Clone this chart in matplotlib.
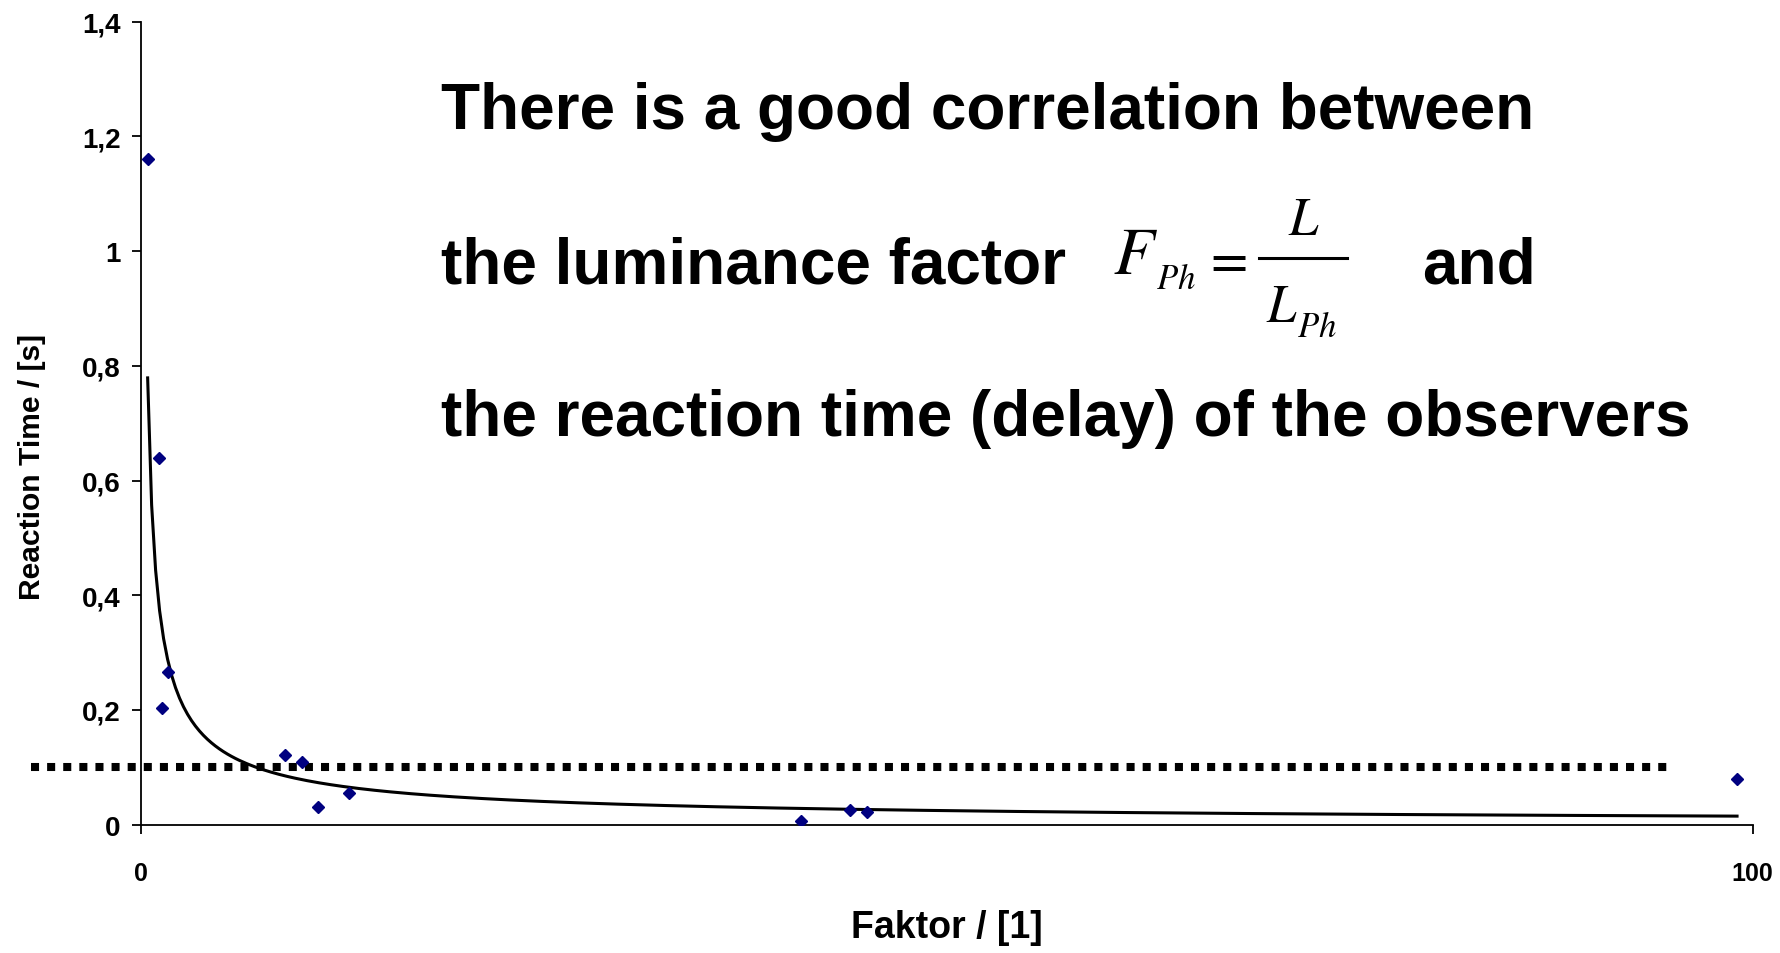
import numpy as np
import matplotlib
matplotlib.use('Agg')
import matplotlib.pyplot as plt
from matplotlib.lines import Line2D
from matplotlib.ticker import FuncFormatter

faktor = [0.42, 1.13, 1.67, 1.34, 8.97, 10.0, 11.01, 12.94, 40.94, 44.02, 45.04, 99.03]
reaktionszeit = [1.16, 0.64, 0.267, 0.204, 0.1215, 0.1088, 0.0314, 0.0553, 0.0064, 0.0256, 0.0227, 0.079]
schwelle = 0.1

x_ticks = [0, 100]
y_ticks = [0, 0.2, 0.4, 0.6, 0.8, 1.0, 1.2, 1.4]

plt.rcParams['font.family'] = ['Liberation Sans', 'DejaVu Sans']
plt.rcParams['mathtext.fontset'] = 'stix'

W, H = 1781, 954


def px(x, y):
    # Pixel (von oben links) -> Figure-Koordinaten
    return x / W, 1 - y / H


# Potenz-Trendlinie wie in Excel: ln(y) = ln(a) + b*ln(x)
b, ln_a = np.polyfit(np.log(faktor), np.log(reaktionszeit), 1)
x_fit = np.linspace(min(faktor), max(faktor), 400)
y_fit = np.exp(ln_a) * x_fit ** b

fig = plt.figure(figsize=(W / 100, H / 100), dpi=100)
ax = fig.add_axes([0.0791, 0.1345, 0.905, 0.8417])

ax.plot(x_fit, y_fit, color='black', linewidth=2.2, zorder=2)
ax.plot(faktor, reaktionszeit, linestyle='none', marker='D', markersize=6,
        color='#000080', zorder=3)
ax.axhline(schwelle, xmin=-0.068, xmax=0.949, color='black', linewidth=5.8,
           linestyle=(0, (1, 1)), dash_capstyle='butt', clip_on=False, zorder=1)

ax.set_xlim(0, 100)
ax.set_ylim(0, 1.4)
ax.set_xticks(x_ticks)
ax.set_yticks(y_ticks)
ax.yaxis.set_major_formatter(FuncFormatter(lambda v, p: f'{v:g}'.replace('.', ',')))

for s in ['top', 'right']:
    ax.spines[s].set_visible(False)
for s in ['left', 'bottom']:
    ax.spines[s].set_linewidth(1.3)
ax.tick_params(axis='both', direction='out', length=6.5, width=1.3)
ax.tick_params(axis='y', pad=8, labelsize=20)
ax.tick_params(axis='x', pad=20, labelsize=18)
for lab in ax.get_xticklabels() + ax.get_yticklabels():
    lab.set_fontweight('bold')

ax.set_xlabel('Faktor / [1]', fontsize=27, fontweight='bold')
ax.xaxis.set_label_coords(0.5, -0.105)

ax.set_ylabel('Reaction Time / [s]', fontsize=21.6, fontweight='bold')
ax.yaxis.label.set_va('center')
ax.yaxis.set_label_coords(-0.0675, 0.447)

# Textblock
fs = 46
fig.text(*px(441, 129), 'There is a good correlation between',
         fontsize=fs, fontweight='bold', va='baseline')
fig.text(*px(441, 283), 'the luminance factor',
         fontsize=fs, fontweight='bold', va='baseline')
fig.text(*px(1422, 283), 'and',
         fontsize=fs, fontweight='bold', va='baseline')
fig.text(*px(441, 436), 'the reaction time (delay) of the observers',
         fontsize=fs, fontweight='bold', va='baseline')

# Formel F_Ph = L / L_Ph (wie im Formeleditor)
fig.text(*px(1113, 274), r'$F$', fontsize=48, va='baseline')
fig.text(*px(1156, 289), r'$Ph$', fontsize=25, va='baseline')
fig.text(*px(1225, 262), r'$=$', fontsize=39, ha='center', va='center')
fig.add_artist(Line2D([1259 / W, 1347 / W], [1 - 259 / H] * 2,
                      transform=fig.transFigure, color='black', linewidth=2.2))
fig.text(*px(1304, 235), r'$L$', fontsize=38, ha='center', va='baseline')
fig.text(*px(1266, 322), r'$L$', fontsize=38, va='baseline')
fig.text(*px(1297, 337), r'$Ph$', fontsize=25, va='baseline')

fig.savefig('out.png', dpi=100)
